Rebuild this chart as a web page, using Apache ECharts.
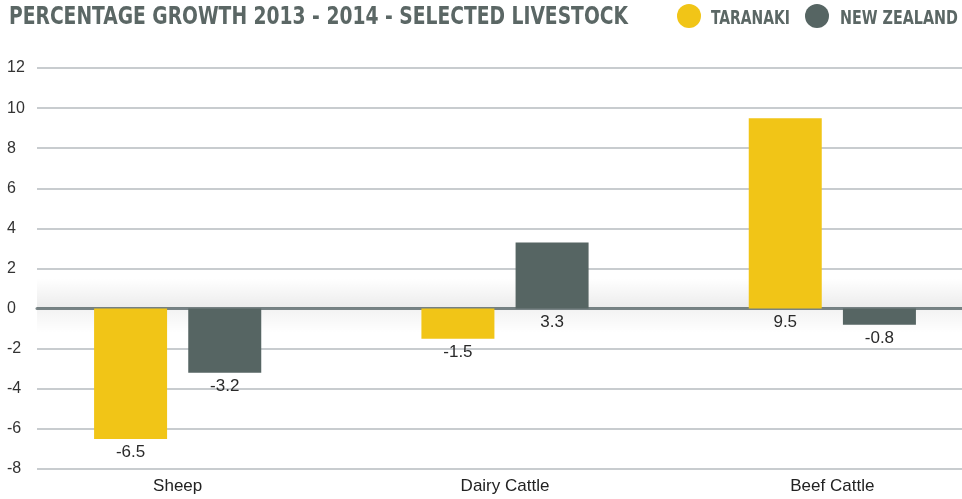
<!DOCTYPE html>
<html>
<head>
<meta charset="utf-8">
<script src="https://cdn.jsdelivr.net/npm/echarts@6/dist/echarts.min.js"></script>
<style>
  html, body { margin: 0; padding: 0; background: #ffffff; }
  #chart { width: 962px; height: 499px; }
</style>
</head>
<body>
<div id="chart"></div>
<script>
// Livestock categories and percentage growth 2013 - 2014
const categories = ['Sheep', 'Dairy Cattle', 'Beef Cattle'];
const taranaki = [-6.5, -1.5, 9.5];
const newZealand = [-3.2, 3.3, -0.8];
const seriesNames = ['TARANAKI', 'NEW ZEALAND'];
const titleText = 'PERCENTAGE GROWTH 2013 - 2014 - SELECTED LIVESTOCK';
const yTicks = { min: -8, max: 12, step: 2 };

const YELLOW = '#f1c517';
const SLATE = '#566563';
const HEAD = '#5b6765';
const TOP = 68, BOTTOM = 30;
const CONDENSED = '"DejaVu Sans Condensed", "DejaVu Sans", sans-serif';
const BODY = 'Liberation Sans, Arial, sans-serif';

// condensed headline text: squeeze a bold face horizontally to a given width
const measureCtx = document.createElement('canvas').getContext('2d');
function squeezed(text, x, y, size, width, color) {
  const font = 'bold ' + size + 'px ' + CONDENSED;
  measureCtx.font = font;
  const natural = measureCtx.measureText(text).width;
  return {
    type: 'text', x: x, y: y, scaleX: width / natural, originX: 0, originY: 0,
    style: { text: text, font: font, fill: color, textVerticalAlign: 'middle' }
  };
}

function barLabel() {
  return {
    show: true,
    position: 'bottom',
    distance: 5,
    color: '#2a2a2a',
    fontFamily: BODY,
    fontSize: 17,
    formatter: p => String(p.value)
  };
}

const chart = echarts.init(document.getElementById('chart'), null, { renderer: 'canvas' });
chart.setOption({
  animation: false,
  backgroundColor: '#ffffff',
  graphic: [
    squeezed(titleText, 9, 17, 25, 619, HEAD),
    { type: 'circle', shape: { cx: 689, cy: 16, r: 12 }, style: { fill: YELLOW } },
    squeezed(seriesNames[0], 711, 19, 19, 79, HEAD),
    { type: 'circle', shape: { cx: 817, cy: 16, r: 12 }, style: { fill: SLATE } },
    squeezed(seriesNames[1], 840, 19, 19, 118, HEAD)
  ],
  grid: [
    // value scale and gridlines
    { left: 37, right: 0, top: TOP, bottom: BOTTOM, outerBoundsMode: 'none', containLabel: false },
    // category bands for the bars (extend past the right edge)
    { left: 14, width: 982, top: TOP, bottom: BOTTOM, outerBoundsMode: 'none', containLabel: false }
  ],
  xAxis: [
    {
      gridIndex: 0, type: 'category', data: categories,
      axisLine: { show: true, onZero: true, lineStyle: { color: '#7e8a8c', width: 3 } },
      axisTick: { show: false }, axisLabel: { show: false }, splitLine: { show: false }
    },
    {
      gridIndex: 1, type: 'category', data: categories,
      axisLine: { show: false }, axisTick: { show: false },
      axisLabel: { color: '#222222', fontSize: 17, margin: 9, fontFamily: BODY }
    }
  ],
  yAxis: [
    {
      gridIndex: 0, type: 'value',
      min: yTicks.min, max: yTicks.max, interval: yTicks.step,
      axisLine: { show: false }, axisTick: { show: false },
      axisLabel: {
        align: 'left', margin: 30, color: '#333333', fontSize: 16,
        fontFamily: BODY,
        padding: [0, 0, 6, 0]
      },
      splitLine: { show: true, lineStyle: { color: '#c8cccf', width: 2 } }
    },
    {
      gridIndex: 1, type: 'value',
      min: yTicks.min, max: yTicks.max, interval: yTicks.step,
      show: false, splitLine: { show: false }
    }
  ],
  series: [
    {
      name: seriesNames[0], type: 'bar', xAxisIndex: 1, yAxisIndex: 1,
      data: taranaki, barWidth: 73, barGap: '29%',
      itemStyle: { color: YELLOW },
      label: barLabel(), z: 2
    },
    {
      name: seriesNames[1], type: 'bar', xAxisIndex: 1, yAxisIndex: 1,
      data: newZealand, barWidth: 73, barGap: '29%',
      itemStyle: { color: SLATE },
      label: barLabel(), z: 2
    },
    {
      // soft shading along the zero line
      type: 'line', xAxisIndex: 0, yAxisIndex: 0, data: [],
      silent: true, z: 3,
      markArea: {
        silent: true,
        data: [
          [
            { yAxis: 1.5, itemStyle: { color: {
              type: 'linear', x: 0, y: 0, x2: 0, y2: 1,
              colorStops: [
                { offset: 0, color: 'rgba(0,0,0,0)' },
                { offset: 1, color: 'rgba(0,0,0,0.08)' }
              ] } } },
            { yAxis: 0 }
          ],
          [
            { yAxis: 0, itemStyle: { color: {
              type: 'linear', x: 0, y: 0, x2: 0, y2: 1,
              colorStops: [
                { offset: 0, color: 'rgba(0,0,0,0.05)' },
                { offset: 1, color: 'rgba(0,0,0,0)' }
              ] } } },
            { yAxis: -1.2 }
          ]
        ]
      }
    }
  ]
});
</script>
</body>
</html>
